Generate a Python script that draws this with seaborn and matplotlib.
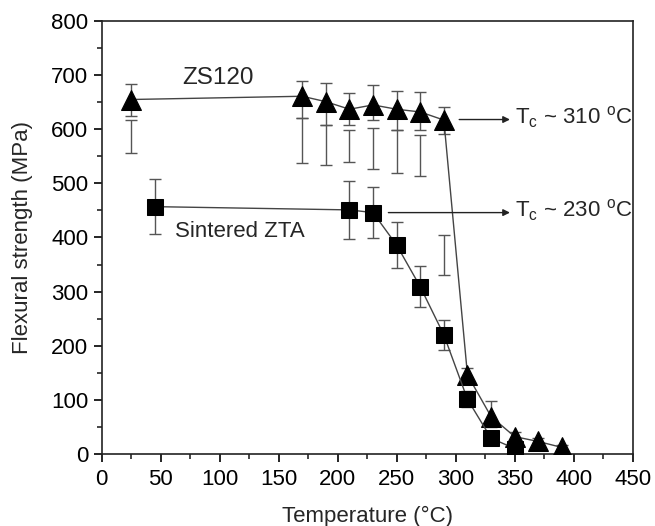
import numpy as np
import pandas as pd
import matplotlib
matplotlib.use("Agg")
import matplotlib.pyplot as plt
from matplotlib.ticker import MultipleLocator
import seaborn as sns

# ZS120 flexural strength vs. temperature
zs_temp = [25, 170, 190, 210, 230, 250, 270, 290, 310, 330, 350, 370, 390]
zs_strength = [655, 661, 651, 637, 645, 637, 632, 617, 146, 69, 32, 23, 12]
zs_err_up = [28, 29, 35, 30, 37, 33, 36, 24, 12, 29, 8, 6, 4]
zs_err_down = [30, 41, 43, 29, 28, 38, 33, 25, 15, 20, 8, 6, 4]

# ZS120 spread range bars (lower band)
zs_range_temp = [25, 170, 190, 210, 230, 250, 270, 290]
zs_range_top = [618, 620, 608, 599, 603, 599, 590, 405]
zs_range_bottom = [557, 537, 534, 540, 527, 519, 513, 331]

# Sintered ZTA flexural strength vs. temperature
zta_temp = [45, 210, 230, 250, 270, 290, 310, 330, 350]
zta_strength = [457, 451, 446, 386, 309, 220, 101, 29, 10]
zta_err = [51, 53, 47, 42, 38, 27, 15, 10, 8]

# Critical temperature annotations
tc_labels = ["T$_\\mathregular{c}$ ~ 310 $^\\mathregular{o}$C", "T$_\\mathregular{c}$ ~ 230 $^\\mathregular{o}$C"]
tc_levels = [618, 446]
tc_arrow_start = [303, 243]

sns.set_style("ticks")
plt.rcParams["font.family"] = ["Liberation Sans", "DejaVu Sans"]
plt.rcParams["mathtext.fontset"] = "custom"
plt.rcParams["mathtext.rm"] = "Liberation Sans"
plt.rcParams["mathtext.it"] = "Liberation Sans"

fig = plt.figure(figsize=(6.55, 5.26), dpi=100)
ax = fig.add_axes([0.155, 0.137, 0.811, 0.823])

line_col = "#444444"
err_col = "#555555"

# error bars
ax.errorbar(zs_temp, zs_strength, yerr=[zs_err_down, zs_err_up], fmt="none",
            ecolor=err_col, elinewidth=1.0, capsize=4, capthick=1.0, zorder=1)
rng_mid = (np.array(zs_range_top) + np.array(zs_range_bottom)) / 2
rng_half = (np.array(zs_range_top) - np.array(zs_range_bottom)) / 2
ax.errorbar(zs_range_temp, rng_mid, yerr=rng_half, fmt="none",
            ecolor=err_col, elinewidth=1.0, capsize=4, capthick=1.0, zorder=1)
ax.errorbar(zta_temp, zta_strength, yerr=zta_err, fmt="none",
            ecolor=err_col, elinewidth=1.0, capsize=4, capthick=1.0, zorder=1)

df_zs = pd.DataFrame({"T": zs_temp, "S": zs_strength})
df_zta = pd.DataFrame({"T": zta_temp, "S": zta_strength})
sns.lineplot(data=df_zs, x="T", y="S", ax=ax, color=line_col, lw=1.0,
             marker="^", markersize=15, markerfacecolor="black",
             markeredgecolor="black", sort=False, zorder=3)
sns.lineplot(data=df_zta, x="T", y="S", ax=ax, color=line_col, lw=1.0,
             marker="s", markersize=11, markerfacecolor="black",
             markeredgecolor="black", sort=False, zorder=3)

# series labels
ax.text(99, 695, "ZS120", fontsize=17.5, ha="center", va="center")
ax.text(62, 411, "Sintered ZTA", fontsize=16, ha="left", va="center")

# critical temperature arrows and labels
for lab, lev, x0 in zip(tc_labels, tc_levels, tc_arrow_start):
    ax.annotate("", xy=(346, lev), xytext=(x0, lev),
                arrowprops=dict(arrowstyle="-|>", color="#222222", lw=1.0,
                                mutation_scale=10, shrinkA=0, shrinkB=0))
    ax.text(350, lev + 4, lab, fontsize=16, ha="left", va="center")

ax.set_xlim(0, 450)
ax.set_ylim(0, 800)
ax.xaxis.set_major_locator(MultipleLocator(50))
ax.xaxis.set_minor_locator(MultipleLocator(25))
ax.yaxis.set_major_locator(MultipleLocator(100))
ax.yaxis.set_minor_locator(MultipleLocator(50))
ax.tick_params(which="major", direction="out", length=6, width=1.2,
               labelsize=16, colors="black", top=False, right=False)
ax.tick_params(which="minor", direction="out", length=3.5, width=1.2,
               top=False, right=False)
ax.tick_params(axis="x", pad=5)
for sp in ax.spines.values():
    sp.set_visible(True)
    sp.set_linewidth(1.2)
    sp.set_color("#222222")

ax.set_xlabel("Temperature (°C)", fontsize=16, labelpad=11)
ax.set_ylabel("Flexural strength (MPa)", fontsize=16, labelpad=13)

fig.savefig("out.png", dpi=100, facecolor="white")
